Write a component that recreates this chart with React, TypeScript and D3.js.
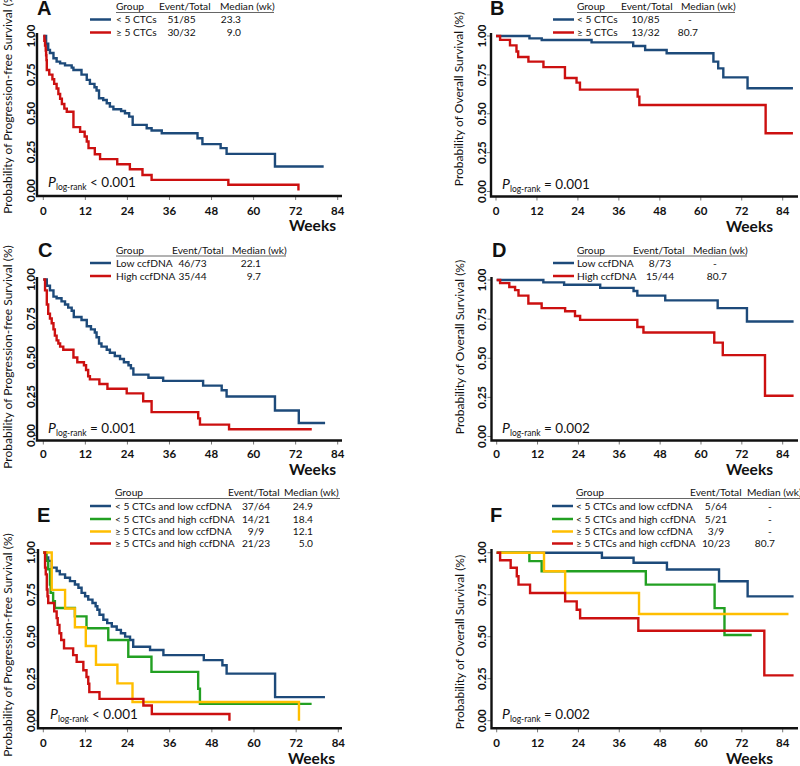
import { useEffect, useRef } from 'react'
import * as d3 from 'd3'

type Pt = [number, number]

const BLUE = '#1d4a7a'
const RED = '#cc1010'
const GREEN = '#22a022'
const YELLOW = '#ffbe00'

const weekTicks = [0, 12, 24, 36, 48, 60, 72, 84]
const survTicks = [0, 0.25, 0.5, 0.75, 1]

// A – PFS by CTC count
const aLowCtc: Pt[] = [[0, 1], [0.8, 0.95], [1.4, 0.91], [1.9, 0.89], [2.9, 0.856], [3.8, 0.834], [4.8, 0.823], [6.2, 0.81], [8.1, 0.795], [8.6, 0.78], [10.9, 0.75], [12.4, 0.716], [13.3, 0.69], [14.6, 0.668], [15.2, 0.647], [15.9, 0.597], [17.1, 0.586], [18.1, 0.565], [19, 0.543], [20, 0.526], [22.2, 0.515], [23.3, 0.5], [24.5, 0.478], [25.5, 0.425], [29.5, 0.403], [30.9, 0.388], [33.8, 0.371], [44, 0.338], [45.4, 0.3], [50.6, 0.274], [52.3, 0.237], [66.1, 0.155], [80, 0.155]]
const aHighCtc: Pt[] = [[0, 1], [0.3, 0.969], [0.5, 0.938], [0.7, 0.906], [0.8, 0.875], [0.9, 0.844], [1, 0.78], [1.7, 0.75], [2.6, 0.72], [3.1, 0.69], [3.8, 0.66], [4.3, 0.625], [4.8, 0.594], [5.3, 0.56], [6, 0.53], [6.7, 0.51], [8.6, 0.41], [10.5, 0.38], [11.8, 0.35], [12.4, 0.317], [12.9, 0.274], [14.7, 0.235], [16.2, 0.203], [21.1, 0.17], [24.7, 0.138], [28.3, 0.1], [30.9, 0.069], [52.8, 0.037], [72.8, 0]]

// B – OS by CTC count
const bLowCtc: Pt[] = [[0, 1], [9.8, 0.985], [13.4, 0.974], [28, 0.959], [40.2, 0.936], [43.7, 0.91], [50, 0.889], [63.7, 0.835], [65.1, 0.792], [66.6, 0.734], [73.7, 0.664], [87, 0.664]]
const bHighCtc: Pt[] = [[0, 1], [1.2, 0.975], [4.1, 0.94], [6, 0.9], [6.5, 0.865], [9.5, 0.835], [13.9, 0.8], [20.2, 0.73], [23.6, 0.7], [24.6, 0.655], [41.5, 0.61], [42, 0.556], [79, 0.375], [87, 0.375]]

// C – PFS by ccfDNA
const cLowDna: Pt[] = [[0, 1], [1, 0.96], [1.9, 0.93], [2.9, 0.89], [3.8, 0.88], [5.2, 0.86], [6.2, 0.84], [7.1, 0.82], [8.1, 0.8], [8.7, 0.76], [10.9, 0.74], [12.4, 0.7], [13.6, 0.68], [14.7, 0.66], [15.2, 0.63], [15.9, 0.59], [16.6, 0.57], [18.1, 0.55], [19, 0.53], [20.4, 0.51], [21.9, 0.49], [23, 0.47], [24.3, 0.45], [25, 0.43], [25.7, 0.39], [30, 0.37], [34.2, 0.35], [45.6, 0.32], [50.9, 0.29], [52.3, 0.25], [66.1, 0.16], [72.9, 0.08], [80.4, 0.08]]
const cHighDna: Pt[] = [[0, 1], [0.5, 0.93], [1, 0.84], [1.4, 0.78], [1.9, 0.75], [2.4, 0.72], [2.9, 0.68], [3.3, 0.64], [3.8, 0.61], [4.3, 0.59], [4.8, 0.57], [5.7, 0.55], [8.6, 0.5], [9.7, 0.47], [11.6, 0.45], [12.2, 0.42], [12.8, 0.38], [13.3, 0.36], [16, 0.33], [18.3, 0.3], [23.8, 0.27], [28.5, 0.22], [30.9, 0.15], [44.2, 0.11], [44.7, 0.07], [53, 0.04], [76.6, 0.04]]

// D – OS by ccfDNA
const dLowDna: Pt[] = [[0, 1], [13.7, 0.985], [19.8, 0.97], [30.4, 0.95], [40.2, 0.93], [41.3, 0.9], [49.5, 0.87], [64.9, 0.82], [73.5, 0.735], [87.2, 0.735]]
const dHighDna: Pt[] = [[0, 1], [1, 0.98], [3.7, 0.955], [5.4, 0.935], [6.4, 0.9], [9.3, 0.85], [13.2, 0.82], [20.1, 0.8], [23, 0.77], [24.5, 0.745], [41.3, 0.7], [43.1, 0.665], [63.9, 0.6], [66.4, 0.52], [78.8, 0.26], [87.2, 0.26]]

// E – PFS by combined groups
const eLowLow: Pt[] = [[0, 1], [0.8, 0.97], [1.4, 0.95], [2.4, 0.91], [3.8, 0.89], [4.7, 0.87], [6.2, 0.85], [7.6, 0.83], [9, 0.81], [10, 0.79], [10.9, 0.76], [11.9, 0.74], [12.8, 0.72], [14, 0.7], [14.9, 0.68], [15.4, 0.66], [16, 0.63], [17.1, 0.6], [18.2, 0.58], [19.5, 0.56], [20.9, 0.54], [22.1, 0.52], [23.3, 0.5], [24.7, 0.48], [25.6, 0.44], [30.4, 0.42], [34.2, 0.39], [45.7, 0.36], [51, 0.33], [52.2, 0.28], [66, 0.14], [80.2, 0.14]]
const eLowHigh: Pt[] = [[0, 1], [0.9, 0.95], [1.4, 0.9], [1.9, 0.81], [2.1, 0.76], [2.8, 0.71], [3.3, 0.67], [9, 0.62], [12.3, 0.55], [18.5, 0.48], [24.2, 0.38], [30.8, 0.29], [44.1, 0.19], [44.6, 0.1], [76.4, 0.1]]
const eHighLow: Pt[] = [[0, 1], [2.4, 0.778], [6.2, 0.667], [9, 0.556], [12.1, 0.444], [15, 0.333], [21.1, 0.222], [25.4, 0.111], [72.8, 0]]
const eHighHigh: Pt[] = [[0, 1], [0.5, 0.91], [0.7, 0.87], [1, 0.78], [1.2, 0.74], [1.4, 0.7], [3.1, 0.65], [3.8, 0.61], [4.1, 0.57], [4.6, 0.52], [5.1, 0.48], [5.9, 0.43], [8.5, 0.39], [9.5, 0.35], [11.4, 0.3], [12.3, 0.26], [12.8, 0.22], [13.1, 0.17], [16, 0.13], [28.5, 0.09], [30.9, 0.04], [53, 0]]

// F – OS by combined groups
const fLowLow: Pt[] = [[0, 1], [30.9, 0.97], [40.2, 0.94], [50, 0.9], [65.3, 0.83], [73.7, 0.74], [87.2, 0.74]]
const fLowHigh: Pt[] = [[0, 1], [9.6, 0.95], [13.2, 0.89], [43.8, 0.81], [64, 0.67], [66.9, 0.51], [74.9, 0.51]]
const fHighLow: Pt[] = [[0, 1], [13.9, 0.89], [20.1, 0.76], [41.8, 0.635], [85.7, 0.635]]
const fHighHigh: Pt[] = [[0, 1], [1, 0.955], [4.1, 0.91], [5.9, 0.86], [6.4, 0.81], [9.8, 0.76], [20.1, 0.71], [23.5, 0.66], [24.5, 0.61], [41.6, 0.535], [78.6, 0.27], [87.2, 0.27]]

const ctcGroups = ['< 5 CTCs', '≥ 5 CTCs']
const dnaGroups = ['Low ccfDNA', 'High ccfDNA']
const comboGroups = ['< 5 CTCs and low ccfDNA', '< 5 CTCs and high ccfDNA', '≥ 5 CTCs and low ccfDNA', '≥ 5 CTCs and high ccfDNA']
const comboColors = [BLUE, GREEN, YELLOW, RED]

const aEvents = ['51/85', '30/32'], aMedians = ['23.3', '9.0']
const bEvents = ['10/85', '13/32'], bMedians = ['-', '80.7']
const cEvents = ['46/73', '35/44'], cMedians = ['22.1', '9.7']
const dEvents = ['8/73', '15/44'], dMedians = ['-', '80.7']
const eEvents = ['37/64', '14/21', '9/9', '21/23'], eMedians = ['24.9', '18.4', '12.1', '5.0']
const fEvents = ['5/64', '5/21', '3/9', '10/23'], fMedians = ['-', '-', '-', '80.7']

const PFS_TITLE = 'Probability of Progression-free Survival (%)'
const OS_TITLE = 'Probability of Overall Survival (%)'

interface Series { name: string; color: string; event: string; median: string; data: Pt[] }
interface Legend {
  lineX1: number; lineX2: number; groupX: number; eventX: number; medianX: number
  underlineEnd: number; headerY: number; underlineY: number; rowY: number[]
  eventCenter: number; medianRight: number; dashX: number
}
interface Panel {
  letter: string; ox: number; x0: number; x84: number; y1: number; y0: number
  axisTop: number; axisY: number; axisRight: number; tickLabelX: number
  yTitle: string; yTitleX: number; yTitleY: number; letterX: number; letterY: number
  weeksX: number; weeksY: number; xTickY: number; legend: Legend
  pX: number; pY: number; pText: string; series: Series[]
}

const mk = (names: string[], colors: string[], events: string[], medians: string[], data: Pt[][]): Series[] =>
  names.map((name, i) => ({ name, color: colors[i], event: events[i], median: medians[i], data: data[i] }))

const leftLegend2 = (top: number, eventX: number, medianX: number, underlineEnd: number, eventCenter: number, medianRight: number): Legend => ({
  lineX1: 90, lineX2: 111, groupX: 116, eventX, medianX, underlineEnd,
  headerY: top, underlineY: top + 2.5, rowY: [top + 9.5, top + 22.5], eventCenter, medianRight, dashX: medianRight - 8,
})
const rightLegend2 = (top: number, eventX: number, medianX: number, underlineEnd: number, eventCenter: number, medianRight: number, dashX: number): Legend => ({
  lineX1: 553, lineX2: 574, groupX: 577, eventX, medianX, underlineEnd,
  headerY: top, underlineY: top + 2.5, rowY: [top + 9.5, top + 22.5], eventCenter, medianRight, dashX,
})

const panels: Panel[] = [
  {
    letter: 'A', ox: 37, x0: 43.3, x84: 337.7, y1: 36, y0: 190.5, axisTop: 33, axisY: 196, axisRight: 342, tickLabelX: 30,
    yTitle: PFS_TITLE, yTitleX: 7, yTitleY: 102, letterX: 37, letterY: 15, weeksX: 336, weeksY: 231, xTickY: 215,
    legend: leftLegend2(10, 159, 220, 274, 181.5, 241),
    pX: 48, pY: 187, pText: '< 0.001',
    series: mk(ctcGroups, [BLUE, RED], aEvents, aMedians, [aLowCtc, aHighCtc]),
  },
  {
    letter: 'B', ox: 491, x0: 496, x84: 782.7, y1: 36, y0: 191.5, axisTop: 33, axisY: 196.5, axisRight: 798, tickLabelX: 481.5,
    yTitle: OS_TITLE, yTitleX: 458, yTitleY: 99, letterX: 490, letterY: 15, weeksX: 773, weeksY: 232, xTickY: 215,
    legend: rightLegend2(10, 621, 681, 735, 645.5, 698, 690),
    pX: 502, pY: 188.5, pText: '= 0.001',
    series: mk(ctcGroups, [BLUE, RED], bEvents, bMedians, [bLowCtc, bHighCtc]),
  },
  {
    letter: 'C', ox: 37, x0: 43.3, x84: 337.7, y1: 279.5, y0: 435.5, axisTop: 277, axisY: 440.5, axisRight: 342, tickLabelX: 30,
    yTitle: PFS_TITLE, yTitleX: 7, yTitleY: 357, letterX: 38, letterY: 257, weeksX: 336, weeksY: 475, xTickY: 458,
    legend: leftLegend2(253.5, 172, 232, 286, 192.5, 261),
    pX: 48, pY: 432.5, pText: '= 0.001',
    series: mk(dnaGroups, [BLUE, RED], cEvents, cMedians, [cLowDna, cHighDna]),
  },
  {
    letter: 'D', ox: 491.5, x0: 496.7, x84: 782.7, y1: 280, y0: 436.5, axisTop: 277, axisY: 440.5, axisRight: 798, tickLabelX: 481.5,
    yTitle: OS_TITLE, yTitleX: 459, yTitleY: 347, letterX: 492, letterY: 257, weeksX: 773, weeksY: 475, xTickY: 458,
    legend: rightLegend2(253.5, 633, 693, 747, 660, 727, 715),
    pX: 502, pY: 432.5, pText: '= 0.002',
    series: mk(dnaGroups, [BLUE, RED], dEvents, dMedians, [dLowDna, dHighDna]),
  },
  {
    letter: 'E', ox: 38, x0: 43.3, x84: 338.3, y1: 552.5, y0: 720.7, axisTop: 549, axisY: 728.3, axisRight: 342, tickLabelX: 30,
    yTitle: PFS_TITLE, yTitleX: 7, yTitleY: 645, letterX: 37, letterY: 522, weeksX: 335, weeksY: 764, xTickY: 746.5,
    legend: {
      lineX1: 90, lineX2: 111, groupX: 115, eventX: 228, medianX: 284, underlineEnd: 340, headerY: 496, underlineY: 498.5,
      rowY: [506, 519, 531.5, 543.5], eventCenter: 256, medianRight: 313, dashX: 305,
    },
    pX: 50, pY: 718.5, pText: '< 0.001',
    series: mk(comboGroups, comboColors, eEvents, eMedians, [eLowLow, eLowHigh, eHighLow, eHighHigh]),
  },
  {
    letter: 'F', ox: 491.5, x0: 496.7, x84: 782.7, y1: 552.7, y0: 720.7, axisTop: 549, axisY: 728.3, axisRight: 798, tickLabelX: 481.5,
    yTitle: OS_TITLE, yTitleX: 459, yTitleY: 642, letterX: 490, letterY: 522, weeksX: 773, weeksY: 764, xTickY: 746.5,
    legend: {
      lineX1: 552, lineX2: 573, groupX: 576, eventX: 690, medianX: 747, underlineEnd: 800, headerY: 496, underlineY: 498.5,
      rowY: [506, 519, 531.5, 543.5], eventCenter: 716, medianRight: 775, dashX: 770,
    },
    pX: 502, pY: 718.5, pText: '= 0.002',
    series: mk(comboGroups, comboColors, fEvents, fMedians, [fLowLow, fLowHigh, fHighLow, fHighHigh]),
  },
]

const FONT = 'Lato, "Open Sans", sans-serif'

function drawPanel(svg: d3.Selection<SVGSVGElement, unknown, null, undefined>, p: Panel) {
  const g = svg.append('g')
  const x = d3.scaleLinear().domain([0, 84]).range([p.x0, p.x84])
  const y = d3.scaleLinear().domain([0, 1]).range([p.y0, p.y1])

  // panel letter
  g.append('text')
    .attr('x', p.letterX).attr('y', p.letterY)
    .attr('font-family', 'Liberation Sans, Arial, sans-serif')
    .attr('font-weight', 700).attr('font-size', 20).attr('fill', '#111')
    .text(p.letter)

  // y title
  g.append('text')
    .attr('transform', `translate(${p.yTitleX},${p.yTitleY}) rotate(-90)`)
    .attr('text-anchor', 'middle').attr('dominant-baseline', 'central')
    .attr('font-family', FONT).attr('font-size', 12).attr('fill', '#111')
    .text(p.yTitle)

  // y ticks + labels
  survTicks.forEach((v) => {
    g.append('line')
      .attr('x1', p.ox - 4).attr('x2', p.ox).attr('y1', y(v)).attr('y2', y(v))
      .attr('stroke', '#777').attr('stroke-width', 1)
    g.append('text')
      .attr('transform', `translate(${p.tickLabelX},${y(v)}) rotate(-90)`)
      .attr('text-anchor', 'middle').attr('dominant-baseline', 'central')
      .attr('font-family', FONT).attr('font-weight', 700).attr('font-size', 11.5).attr('fill', '#111')
      .text(v.toFixed(2))
  })

  // x ticks + labels
  weekTicks.forEach((w) => {
    g.append('line')
      .attr('x1', x(w)).attr('x2', x(w)).attr('y1', p.axisY).attr('y2', p.axisY + 4)
      .attr('stroke', '#777').attr('stroke-width', 1)
    g.append('text')
      .attr('x', x(w)).attr('y', p.xTickY)
      .attr('text-anchor', 'middle')
      .attr('font-family', FONT).attr('font-weight', 700).attr('font-size', 11.5).attr('fill', '#111')
      .text(w)
  })

  // axis lines
  g.append('path')
    .attr('d', `M${p.ox},${p.axisTop}V${p.axisY}H${p.axisRight}`)
    .attr('fill', 'none').attr('stroke', '#111').attr('stroke-width', 2.4)

  g.append('text')
    .attr('x', p.weeksX).attr('y', p.weeksY)
    .attr('text-anchor', 'end')
    .attr('font-family', FONT).attr('font-weight', 700).attr('font-size', 15.5).attr('fill', '#111')
    .text('Weeks')

  // curves
  const line = d3.line<Pt>()
    .x((d) => x(d[0]))
    .y((d) => y(d[1]))
    .curve(d3.curveStepAfter)

  p.series.forEach((s) => {
    g.append('path')
      .datum(s.data)
      .attr('fill', 'none')
      .attr('stroke', s.color)
      .attr('stroke-width', 2.4)
      .attr('d', line)
  })

  // p-value
  const pt = g.append('text')
    .attr('x', p.pX).attr('y', p.pY)
    .attr('font-family', FONT).attr('fill', '#111')
  pt.append('tspan').attr('font-style', 'italic').attr('font-size', 14).text('P')
  pt.append('tspan').attr('font-size', 8.5).attr('dy', 3).text('log-rank')
  pt.append('tspan').attr('font-size', 13.5).attr('dy', -3).text(` ${p.pText}`)

  // legend
  const L = p.legend
  const lg = g.append('g').attr('font-family', FONT).attr('font-size', 10.2).attr('fill', '#111')
  lg.append('text').attr('x', L.groupX).attr('y', L.headerY).text('Group')
  lg.append('text').attr('x', L.eventX).attr('y', L.headerY).text('Event/Total')
  lg.append('text').attr('x', L.medianX).attr('y', L.headerY).text('Median (wk)')
  lg.append('line')
    .attr('x1', L.groupX).attr('x2', L.underlineEnd)
    .attr('y1', L.underlineY).attr('y2', L.underlineY)
    .attr('stroke', '#666').attr('stroke-width', 1)

  p.series.forEach((s, i) => {
    const ry = L.rowY[i]
    lg.append('line')
      .attr('x1', L.lineX1).attr('x2', L.lineX2).attr('y1', ry).attr('y2', ry)
      .attr('stroke', s.color).attr('stroke-width', 2.5)
    lg.append('text').attr('x', L.groupX).attr('y', ry + 3.5).text(s.name)
    lg.append('text').attr('x', L.eventCenter).attr('y', ry + 3.5).attr('text-anchor', 'middle').text(s.event)
    if (s.median === '-') {
      lg.append('text').attr('x', L.dashX).attr('y', ry + 3.5).attr('text-anchor', 'middle').text('-')
    } else {
      lg.append('text').attr('x', L.medianRight).attr('y', ry + 3.5).attr('text-anchor', 'end').text(s.median)
    }
  })
}

export default function App() {
  const svgRef = useRef<SVGSVGElement>(null)

  useEffect(() => {
    if (!svgRef.current) return
    document.body.style.margin = '0'
    const svg = d3.select(svgRef.current)
    svg.selectAll('*').remove()
    svg.append('rect').attr('width', 800).attr('height', 766).attr('fill', '#fff')
    panels.forEach((p) => drawPanel(svg, p))
  }, [])

  return <svg ref={svgRef} width={800} height={766} style={{ display: 'block' }} />
}
